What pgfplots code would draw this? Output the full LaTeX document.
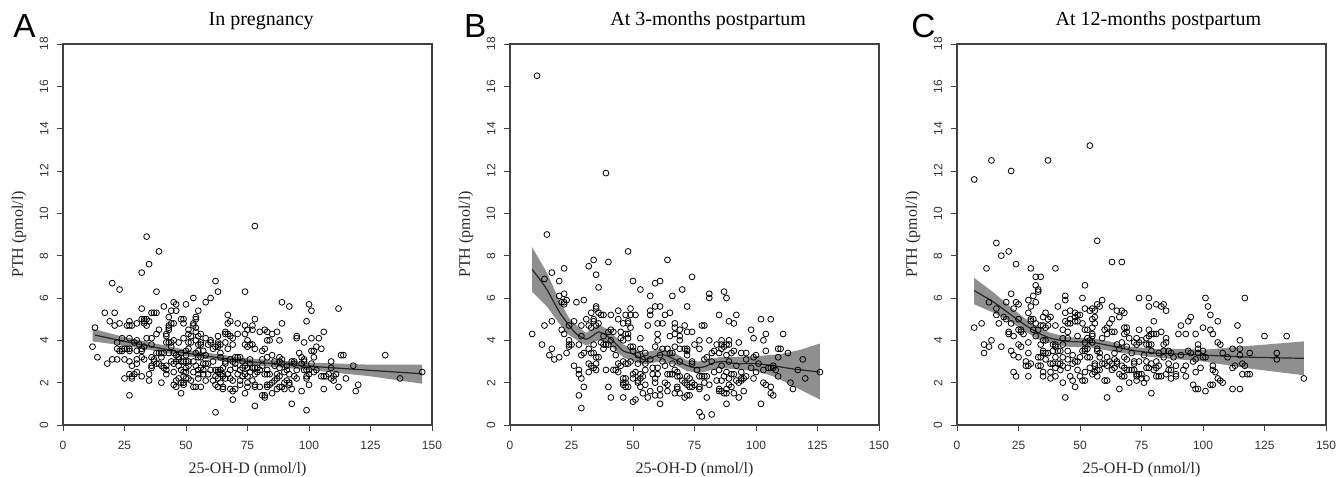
\documentclass[border=0pt]{standalone}
\usepackage{pgfplots}
\usepackage{fontspec}
\setmainfont{Liberation Serif}
\newfontfamily\hv{Liberation Sans}
\pgfplotsset{compat=1.18}
\definecolor{axc}{gray}{0.25}
\definecolor{bandc}{gray}{0.5}
\pgfplotsset{panel/.style={
  scale only axis, width=276.75pt, height=285.75pt,
  xmin=0, xmax=150, ymin=0, ymax=18,
  xtick={0,25,50,75,100,125,150}, ytick={0,2,4,6,8,10,12,14,16,18},
  axis line style={axc, line width=0.8pt},
  tick style={axc, line width=0.7pt},
  tickwidth=4.5pt, tick align=outside, xtick pos=bottom, ytick pos=left,
  /pgf/number format/assume math mode=true,
  ticklabel style={font=\hv\fontsize{9pt}{10pt}\selectfont, text=black!80},
  yticklabel style={rotate=90, anchor=south, yshift=3pt},
  xticklabel style={anchor=north, yshift=-4pt},
  xlabel={25-OH-D (nmol/l)}, ylabel={PTH (pmol/l)},
  label style={font=\fontsize{12pt}{14pt}\selectfont, text=black!85},
  xlabel style={at={(axis description cs:0.5,-0.118)}, anchor=center},
  ylabel style={at={(axis description cs:-0.119,0.5)}, anchor=center},
  title style={font=\fontsize{15pt}{18pt}\selectfont, at={(axis description cs:0.537,1.0)}, anchor=base, yshift=7.5pt},
}}
\pgfplotsset{pts/.style={only marks, mark=o, mark size=2.2pt, mark options={black, line width=0.6pt}},
  band/.style={fill=bandc, draw=none, fill opacity=0.88},
  fit/.style={black!85, line width=0.9pt, smooth, tension=0.3}}
\begin{document}
\begin{tikzpicture}[x=1pt,y=1pt]
\path[use as bounding box] (0,0) rectangle (1005.75,357.75);
\node[font=\hv\fontsize{25pt}{28pt}\selectfont, anchor=base west] at (6.5,329.5) {A};
\node[font=\hv\fontsize{25pt}{28pt}\selectfont, anchor=base west] at (344.5,329.5) {B};
\node[font=\hv\fontsize{25pt}{28pt}\selectfont, anchor=base west] at (680,329.5) {C};

% Panel A
\begin{axis}[panel, at={(47.25pt,39pt)}, anchor=south west, title={In pregnancy}]
\addplot[pts] coordinates {
(12,3.7)(13,4.6)(14,3.2)(17,5.3)(18,2.9)(19,4.9)(20,6.7)(20,3.1)(21,5.3)(21,4.7)(22,3.1)(22,3.6)(22,3.9)(23,6.4)(23,4.8)(23,3.5)(24,4.1)(24,3.6)(24,3.5)(25,3.6)(25,3.1)(25,2.2)(26,3.6)(26,4.7)(27,4.9)(27,4.7)(27,4.1)(27,3.6)(27,3.5)(27,3.0)(27,2.4)(27,1.4)(28,4.7)(28,2.8)(28,2.3)(28,2.2)(29,2.4)(29,3.9)(30,4.8)(30,4.0)(30,3.5)(30,3.1)(30,2.9)(30,2.5)(31,3.8)(32,7.2)(32,5.5)(32,5.0)(32,3.6)(32,3.5)(32,3.2)(32,2.3)(33,5.0)(33,4.9)(33,4.8)(33,3.7)(33,3.1)(34,8.9)(34,5.0)(34,4.7)(34,4.1)(35,7.6)(35,4.9)(35,2.4)(35,2.1)(36,5.3)(36,4.1)(36,3.8)(36,3.2)(36,2.8)(36,2.7)(37,5.3)(37,3.1)(37,3.0)(38,6.3)(38,5.3)(38,4.3)(38,3.4)(38,2.9)(39,8.2)(39,4.5)(39,3.4)(39,2.9)(40,3.4)(40,3.2)(40,2.8)(40,2.0)(41,5.6)(41,3.4)(41,2.7)(42,4.3)(42,3.9)(42,4.2)(42,2.8)(42,2.6)(42,2.4)(43,5.1)(43,4.7)(43,4.6)(43,4.5)(43,3.9)(43,3.4)(44,5.4)(44,4.8)(44,3.9)(44,3.7)(44,3.0)(45,5.8)(45,4.8)(45,4.0)(45,3.4)(45,2.9)(45,2.5)(45,1.9)(46,5.7)(46,5.4)(46,3.3)(46,3.0)(46,2.1)(46,1.8)(47,3.9)(47,3.2)(47,3.1)(47,2.8)(47,2.2)(48,5.0)(48,3.4)(48,3.0)(48,2.6)(48,2.0)(48,1.5)(49,5.0)(49,4.8)(49,4.1)(49,3.0)(49,2.5)(49,2.3)(49,2.0)(49,1.9)(50,5.7)(50,3.5)(50,3.3)(50,3.0)(50,2.7)(50,2.5)(50,2.2)(51,4.5)(51,4.3)(51,3.9)(51,3.6)(51,3.0)(51,2.8)(51,2.2)(52,4.2)(52,3.9)(52,2.1)(53,6.0)(53,4.8)(53,4.7)(53,3.0)(53,2.5)(53,1.8)(54,5.1)(54,5.0)(54,4.6)(54,4.4)(54,4.0)(54,3.4)(54,2.8)(54,1.8)(55,5.4)(55,4.2)(55,3.8)(55,3.5)(55,3.2)(55,2.6)(55,2.4)(55,2.2)(56,4.3)(56,3.9)(56,3.8)(56,3.2)(56,2.7)(56,1.8)(57,3.5)(57,2.9)(57,2.6)(57,2.4)(58,5.8)(58,4.1)(58,3.3)(58,2.9)(58,2.1)(59,3.8)(59,2.9)(59,2.4)(60,6.0)(60,4.0)(60,3.9)(60,2.6)(61,3.6)(61,3.0)(61,2.1)(62,6.8)(62,3.7)(62,2.6)(62,2.3)(62,1.9)(62,0.6)(63,6.3)(63,4.2)(63,3.9)(63,3.8)(63,3.7)(63,2.6)(63,2.5)(63,2.2)(63,1.8)(64,3.8)(64,3.4)(64,3.2)(64,2.6)(64,2.4)(64,2.0)(65,2.7)(65,2.4)(65,2.3)(65,1.8)(65,1.7)(66,4.4)(66,4.3)(66,3.9)(66,3.0)(66,2.9)(66,2.2)(67,5.2)(67,4.8)(67,4.3)(67,3.6)(67,2.4)(68,4.9)(68,4.2)(68,3.1)(68,2.6)(68,2.2)(68,1.7)(69,4.1)(69,3.8)(69,3.0)(69,2.1)(69,1.6)(69,1.2)(70,3.2)(70,2.9)(70,2.7)(70,1.7)(71,4.8)(71,4.3)(71,3.2)(71,2.4)(72,3.2)(72,2.6)(72,2.1)(72,1.9)(73,3.0)(73,2.7)(73,2.3)(74,6.3)(74,4.7)(74,4.3)(74,3.8)(74,2.8)(74,2.4)(74,1.5)(75,4.5)(75,4.0)(75,3.7)(75,2.7)(75,2.3)(75,2.0)(75,1.8)(76,3.8)(76,3.1)(76,2.9)(76,2.5)(77,4.7)(77,4.5)(77,3.8)(77,2.7)(77,2.1)(78,9.4)(78,5.0)(78,3.6)(78,2.7)(78,2.4)(78,1.9)(78,1.8)(78,0.9)(79,2.7)(79,2.5)(80,4.4)(80,2.6)(80,1.8)(81,3.5)(81,3.1)(81,2.8)(81,1.4)(82,4.5)(82,3.6)(82,2.4)(82,1.4)(82,1.3)(83,4.4)(83,4.0)(83,3.2)(83,2.6)(83,2.4)(83,1.9)(83,1.8)(84,4.0)(84,2.4)(84,1.9)(85,4.3)(85,3.3)(85,2.0)(85,1.5)(86,3.0)(86,2.8)(86,2.1)(87,4.4)(87,2.4)(87,2.2)(87,1.7)(88,4.0)(88,3.2)(88,3.0)(88,2.7)(88,2.3)(88,1.8)(89,5.8)(89,4.8)(89,3.1)(89,2.9)(89,1.8)(90,2.5)(90,2.0)(90,1.7)(91,2.8)(91,2.6)(91,2.1)(92,5.6)(92,2.4)(92,2.0)(92,1.9)(93,3.0)(93,1.7)(93,1.0)(94,3.0)(94,2.9)(94,2.3)(95,4.2)(95,4.1)(95,2.6)(95,2.2)(96,3.4)(97,3.2)(97,2.9)(97,1.6)(98,3.9)(98,3.1)(98,3.0)(98,2.6)(99,4.9)(99,2.6)(99,2.3)(99,2.2)(99,0.7)(100,5.7)(100,2.6)(100,2.4)(100,1.9)(101,5.4)(101,4.1)(101,3.5)(101,2.9)(102,3.5)(102,3.2)(102,2.5)(103,3.7)(103,2.6)(104,4.1)(105,3.6)(105,2.3)(106,4.4)(106,2.3)(106,1.7)(107,2.3)(108,2.4)(109,3.0)(109,2.7)(109,2.2)(110,2.3)(110,2.1)(111,2.4)(112,5.5)(112,1.8)(113,3.3)(114,3.3)(115,2.2)(118,2.8)(119,1.6)(120,1.9)(131,3.3)(137,2.2)(146,2.5)
};
\addplot[band] coordinates {(12,4.55)(25,4.15)(50,3.55)(75,3.15)(100,2.95)(125,2.85)(146,2.85)(146,1.95)(125,2.3)(100,2.6)(75,2.85)(50,3.25)(25,3.75)(12,3.95)} -- cycle;
\addplot[fit] coordinates {(13,4.25)(25,3.95)(50,3.4)(75,3.0)(100,2.78)(125,2.58)(146,2.42)};
\end{axis}

% Panel B
\begin{axis}[panel, at={(382.5pt,39pt)}, anchor=south west, title={At 3-months postpartum}]
\addplot[pts] coordinates {
(11,16.5)(39,11.9)(15,9.0)(9,4.3)(13,3.8)(14,6.9)(14,4.7)(16,3.3)(17,7.2)(17,4.9)(17,3.6)(18,3.1)(20,6.8)(20,6.1)(20,3.2)(21,5.8)(21,4.5)(22,7.4)(22,6.2)(22,5.8)(22,5.7)(22,4.3)(23,5.9)(23,3.4)(24,4.7)(24,4.0)(24,3.8)(24,3.7)(25,3.8)(26,4.9)(26,2.8)(27,5.8)(28,3.8)(28,2.6)(28,2.4)(28,1.4)(29,4.7)(29,4.2)(29,3.3)(29,2.2)(29,0.8)(30,5.9)(30,3.4)(30,1.8)(31,5.0)(32,7.5)(32,4.7)(32,3.6)(32,2.9)(32,2.5)(33,5.3)(33,4.6)(33,3.4)(33,2.8)(34,7.8)(34,5.0)(34,4.9)(34,3.8)(34,3.4)(34,2.7)(35,7.1)(35,5.6)(35,5.5)(35,4.7)(35,3.2)(35,2.9)(35,2.6)(36,6.5)(36,5.3)(36,4.8)(36,3.2)(37,5.2)(37,3.9)(38,5.2)(38,4.2)(38,3.8)(38,3.6)(39,2.6)(39,3.8)(40,7.7)(40,4.4)(40,3.8)(40,1.8)(41,5.2)(41,4.5)(41,4.0)(41,1.3)(42,4.4)(42,3.6)(42,2.6)(43,3.3)(43,2.6)(44,5.4)(44,5.0)(44,2.9)(44,2.5)(45,4.4)(45,4.1)(45,2.8)(46,4.8)(46,4.0)(46,3.0)(46,2.2)(46,2.0)(46,1.9)(46,1.3)(47,5.2)(47,4.3)(47,2.9)(47,2.2)(47,2.0)(47,1.8)(48,8.2)(48,4.9)(48,4.8)(48,4.3)(48,4.1)(48,2.9)(48,1.8)(49,5.5)(49,5.2)(49,4.6)(49,3.7)(49,3.0)(50,6.8)(50,3.7)(50,3.5)(50,2.4)(50,2.2)(50,1.1)(51,5.2)(51,2.5)(51,1.2)(52,3.3)(52,2.9)(52,2.1)(52,2.0)(53,6.4)(53,4.1)(53,3.6)(53,2.4)(53,2.2)(53,1.8)(54,3.1)(54,2.3)(54,1.5)(55,3.4)(55,2.9)(55,2.6)(55,1.9)(56,4.7)(56,1.3)(57,6.1)(57,5.4)(57,5.2)(57,3.1)(57,1.6)(58,2.7)(58,2.4)(59,6.7)(59,5.6)(59,3.7)(59,2.2)(59,2.0)(59,1.4)(60,4.8)(60,4.3)(60,4.0)(60,2.7)(60,2.4)(61,6.8)(61,5.6)(61,3.3)(61,1.7)(61,1.4)(61,1.0)(62,4.8)(62,3.6)(62,3.0)(63,5.2)(63,2.8)(63,2.0)(64,7.8)(64,3.6)(64,2.4)(64,1.9)(64,1.6)(65,5.3)(65,4.2)(65,3.4)(65,2.4)(66,6.1)(66,3.4)(66,2.9)(66,2.4)(67,4.8)(67,4.6)(67,4.3)(67,3.7)(67,2.6)(67,1.5)(68,2.5)(68,2.3)(68,1.8)(68,1.7)(69,4.5)(69,4.2)(69,4.0)(69,3.6)(69,3.0)(69,2.3)(69,1.5)(70,6.4)(70,2.1)(71,4.7)(71,3.6)(71,2.0)(71,1.3)(72,5.6)(72,4.4)(72,3.6)(72,3.5)(72,3.3)(72,2.3)(72,1.9)(72,1.4)(73,2.2)(73,1.8)(73,1.4)(74,7.0)(74,4.4)(74,3.0)(74,2.9)(74,2.0)(74,1.8)(75,3.8)(75,1.9)(76,2.6)(77,4.0)(77,3.6)(77,2.3)(77,1.8)(77,1.7)(77,0.6)(78,4.7)(78,2.3)(78,0.4)(79,4.7)(79,3.1)(79,2.3)(79,2.0)(80,3.2)(80,2.3)(80,1.3)(81,6.2)(81,6.0)(81,4.0)(81,1.9)(82,3.4)(82,3.0)(82,0.5)(83,3.5)(83,2.5)(84,3.8)(84,2.1)(85,5.2)(85,3.4)(85,2.6)(85,1.7)(85,1.6)(86,4.0)(86,3.8)(86,3.6)(86,2.8)(86,2.1)(86,1.6)(87,6.3)(87,3.7)(87,2.3)(87,1.5)(88,6.0)(88,3.8)(88,3.3)(88,2.5)(88,1.7)(88,1.5)(88,1.0)(89,4.9)(89,4.0)(89,3.8)(89,3.0)(89,2.2)(89,1.9)(90,3.4)(90,2.4)(90,1.8)(91,4.8)(91,3.5)(91,2.4)(91,1.5)(92,5.2)(92,2.8)(92,2.1)(93,3.9)(93,2.0)(93,1.3)(94,3.4)(94,2.5)(94,2.2)(94,2.1)(95,2.2)(95,1.6)(96,3.4)(96,3.1)(96,2.3)(98,4.5)(98,2.7)(99,4.1)(99,3.2)(99,2.2)(100,3.3)(100,2.5)(101,2.9)(102,5.0)(102,1.0)(103,4.0)(103,2.6)(103,2.0)(104,4.3)(104,3.5)(104,1.9)(105,2.7)(106,5.0)(106,2.7)(106,1.8)(106,1.5)(107,2.8)(107,2.7)(107,1.4)(108,2.6)(109,3.6)(109,3.2)(109,2.3)(110,3.6)(111,4.3)(113,3.4)(114,2.0)(115,1.7)(117,2.6)(119,3.1)(120,2.2)(126,2.5)
};
\addplot[band] coordinates {(9,8.4)(15,7.2)(20,5.9)(24,5.05)(28,4.6)(31,4.35)(36,4.75)(40,4.5)(46,3.8)(54,3.4)(61,3.6)(67,3.4)(72,3.05)(77,3.0)(85,3.2)(100,3.25)(110,3.35)(118,3.55)(126,3.85)(126,1.2)(120,1.55)(115,1.85)(107,2.3)(100,2.55)(85,2.7)(77,2.45)(72,2.55)(67,2.85)(61,3.0)(54,2.85)(46,3.2)(40,3.85)(36,4.0)(31,3.75)(28,3.95)(24,4.25)(20,4.8)(15,5.6)(9,6.3)} -- cycle;
\addplot[fit] coordinates {(9,7.35)(12,6.9)(15,6.4)(20,5.35)(24,4.7)(27,4.3)(31,4.05)(34,4.25)(36,4.4)(39,4.25)(42,3.95)(46,3.5)(50,3.35)(54,3.1)(57,3.15)(60,3.3)(63,3.3)(67,3.1)(71,2.85)(75,2.7)(79,2.75)(83,2.95)(87,3.0)(92,2.9)(100,2.9)(107,2.8)(115,2.65)(126,2.5)};
\end{axis}

% Panel C
\begin{axis}[panel, at={(717.75pt,39pt)}, anchor=south west, title={At 12-months postpartum}, title style={at={(axis description cs:0.546,1.0)}}]
\addplot[pts] coordinates {
(7,11.6)(14,12.5)(22,12.0)(37,12.5)(54,13.2)(16,8.6)(21,8.2)(18,8.0)(24,7.6)(12,7.4)(7,4.6)(10,4.8)(11,3.8)(11,3.4)(13,5.8)(13,3.7)(14,4.0)(16,5.5)(16,5.2)(17,4.8)(18,3.7)(19,5.1)(20,5.8)(20,5.0)(21,4.4)(21,4.3)(22,6.2)(22,4.8)(22,3.5)(23,5.5)(23,4.2)(23,3.3)(23,2.5)(24,5.8)(24,2.3)(25,5.7)(25,5.0)(25,4.5)(25,3.8)(25,3.2)(26,4.5)(26,4.4)(26,3.7)(27,4.3)(28,3.0)(28,2.8)(29,5.9)(29,5.3)(29,3.9)(29,3.4)(29,2.8)(29,2.3)(30,7.4)(30,5.6)(30,5.0)(30,4.9)(30,2.9)(31,6.1)(31,5.0)(31,4.5)(32,7.0)(32,6.6)(32,5.8)(32,4.8)(32,4.2)(33,6.4)(33,6.3)(33,4.5)(33,3.2)(33,2.8)(34,7.0)(34,4.7)(34,3.8)(34,3.2)(34,2.8)(35,5.1)(35,4.7)(35,4.0)(35,3.5)(35,3.4)(35,2.5)(35,2.3)(36,5.3)(36,4.6)(36,4.0)(36,3.4)(36,3.1)(37,5.0)(37,4.7)(37,3.4)(38,5.1)(38,2.9)(38,2.5)(38,2.2)(39,3.8)(39,3.5)(39,2.9)(40,7.4)(40,4.7)(40,3.8)(40,3.7)(40,3.2)(40,2.7)(40,2.3)(41,5.6)(41,3.5)(41,2.9)(42,3.5)(42,2.9)(42,2.6)(43,4.5)(43,4.1)(43,3.8)(43,3.2)(43,2.8)(43,2.0)(44,6.1)(44,5.9)(44,5.3)(44,4.9)(44,1.3)(45,4.8)(45,4.4)(45,4.1)(45,3.5)(45,3.1)(45,2.7)(46,5.4)(46,5.0)(46,4.8)(46,2.3)(47,3.3)(47,2.9)(47,2.1)(48,5.3)(48,5.1)(48,4.9)(48,3.0)(48,1.8)(49,5.2)(49,4.9)(49,4.2)(49,3.0)(49,2.6)(50,5.2)(50,3.2)(50,2.3)(51,6.0)(51,4.8)(51,3.5)(51,2.1)(52,6.6)(52,5.5)(52,4.5)(52,3.9)(52,3.6)(52,3.5)(52,2.5)(52,2.1)(53,4.5)(53,4.1)(53,3.6)(53,3.2)(54,5.4)(54,4.0)(54,3.2)(54,2.7)(55,5.5)(55,4.6)(55,5.0)(55,4.3)(55,4.2)(55,3.9)(55,2.4)(56,5.4)(56,5.1)(56,4.8)(56,2.9)(56,2.8)(56,2.5)(57,8.7)(57,5.7)(57,3.6)(57,3.5)(57,2.6)(57,2.3)(58,5.6)(58,3.4)(58,3.2)(58,2.6)(59,5.9)(59,4.1)(59,2.9)(60,4.5)(60,2.9)(60,2.1)(61,4.6)(61,4.3)(61,3.2)(61,2.8)(61,2.1)(61,1.3)(62,4.8)(62,3.0)(63,7.7)(63,5.6)(63,5.0)(63,4.4)(63,2.9)(63,2.6)(64,4.4)(64,3.4)(64,3.1)(64,2.7)(65,5.4)(65,3.8)(65,3.0)(65,2.9)(66,5.1)(66,3.6)(66,2.4)(66,1.7)(67,7.7)(67,5.4)(67,3.9)(67,2.8)(67,2.3)(68,5.3)(68,4.6)(68,4.3)(68,3.2)(68,2.7)(68,2.3)(69,4.6)(69,4.4)(69,3.7)(69,3.1)(69,2.6)(70,4.1)(70,2.6)(70,2.0)(71,3.4)(71,2.6)(72,3.9)(72,3.0)(72,2.9)(72,2.6)(73,4.1)(73,3.8)(73,2.4)(73,2.3)(73,2.1)(74,6.0)(74,4.5)(74,3.9)(74,3.0)(74,2.4)(75,4.0)(75,2.4)(75,2.2)(76,3.3)(76,2.0)(77,4.1)(77,3.8)(77,3.0)(77,2.7)(77,2.2)(78,6.0)(78,5.6)(78,4.5)(78,4.2)(78,3.8)(78,2.7)(79,4.3)(79,3.8)(79,3.5)(79,2.9)(79,1.5)(80,4.9)(80,4.3)(80,2.6)(81,5.7)(81,4.3)(81,3.0)(81,2.7)(81,2.3)(82,3.4)(82,2.8)(82,2.3)(83,5.6)(83,4.4)(83,2.3)(84,5.7)(84,3.8)(84,3.5)(84,3.2)(85,5.4)(85,4.1)(85,3.9)(85,2.4)(86,3.5)(86,2.9)(86,2.6)(87,3.4)(87,2.6)(87,2.2)(88,3.2)(89,2.8)(89,2.4)(89,2.3)(90,4.3)(91,4.7)(91,3.3)(92,2.6)(93,4.3)(93,2.8)(93,2.3)(94,4.9)(94,3.5)(95,5.1)(95,3.4)(96,1.9)(96,3.0)(97,4.3)(97,3.1)(97,2.5)(97,1.7)(98,3.8)(98,3.6)(98,3.4)(98,1.7)(99,2.7)(100,4.6)(100,3.5)(100,3.2)(101,6.0)(101,3.2)(101,1.6)(102,5.6)(103,5.2)(103,4.5)(103,1.9)(104,4.3)(104,2.8)(104,2.6)(104,1.9)(105,2.5)(106,4.9)(106,3.9)(106,2.2)(107,3.8)(107,2.1)(108,3.4)(108,2.0)(110,3.2)(112,3.6)(112,2.7)(112,1.7)(113,2.8)(114,4.7)(115,4.0)(115,3.6)(115,3.3)(115,1.7)(116,2.9)(116,2.4)(117,6.0)(117,2.8)(118,2.4)(119,3.4)(119,2.4)(125,4.2)(130,3.4)(130,3.1)(134,4.2)(141,2.2)
};
\addplot[band] coordinates {(7,6.95)(15,6.25)(22,5.55)(28,5.0)(33,4.6)(38,4.35)(45,4.15)(55,4.1)(62,3.95)(70,3.7)(80,3.6)(90,3.6)(100,3.55)(120,3.75)(141,3.95)(141,2.35)(120,2.65)(100,3.0)(90,3.1)(80,3.2)(70,3.35)(62,3.5)(55,3.65)(45,3.7)(38,3.85)(33,4.05)(28,4.4)(22,4.85)(15,5.3)(7,5.7)} -- cycle;
\addplot[fit] coordinates {(7,6.35)(15,5.8)(22,5.2)(28,4.7)(33,4.35)(38,4.1)(45,3.95)(55,3.9)(62,3.75)(70,3.55)(80,3.4)(90,3.35)(100,3.3)(120,3.2)(141,3.15)};
\end{axis}
\end{tikzpicture}
\end{document}
